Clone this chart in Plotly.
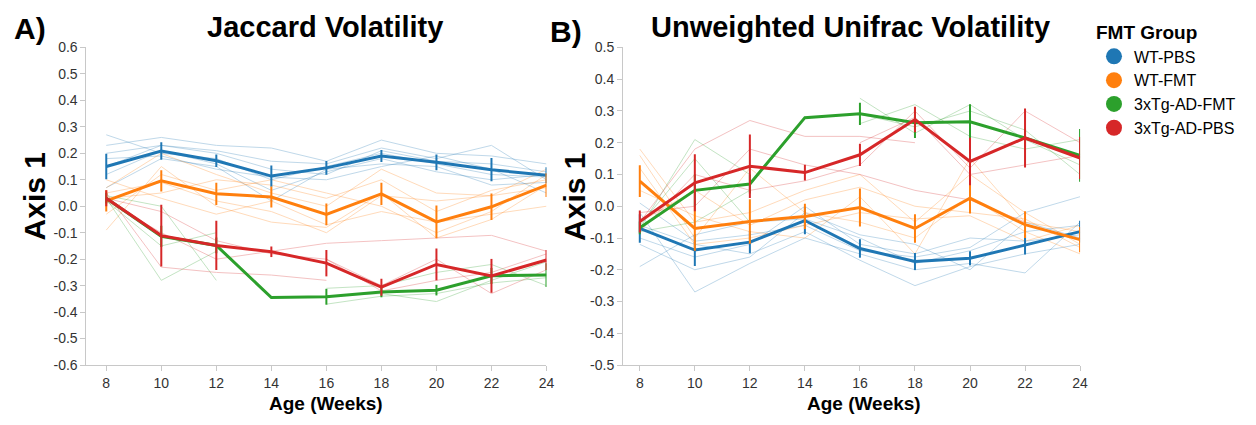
import plotly.graph_objects as go

W, H = 1256, 425

weeks = [8, 10, 12, 14, 16, 18, 20, 22, 24]
groups = ["WT-PBS", "WT-FMT", "3xTg-AD-FMT", "3xTg-AD-PBS"]
colors = {"WT-PBS": "#1f77b4", "WT-FMT": "#ff7f0e",
          "3xTg-AD-FMT": "#2ca02c", "3xTg-AD-PBS": "#d62728"}

# ---------------- Panel A: Jaccard ----------------
jac_mean = {
    "WT-PBS":      [0.150, 0.209, 0.172, 0.114, 0.145, 0.190, 0.166, 0.138, 0.117],
    "WT-FMT":      [0.020, 0.096, 0.047, 0.035, -0.031, 0.047, -0.059, -0.002, 0.080],
    "3xTg-AD-FMT": [0.030, -0.114, -0.148, -0.345, -0.342, -0.324, -0.317, -0.263, -0.260],
    "3xTg-AD-PBS": [0.030, -0.111, -0.148, -0.172, -0.215, -0.306, -0.220, -0.263, -0.203],
}
jac_err = {
    "WT-PBS":      [0.048, 0.033, 0.024, 0.040, 0.026, 0.023, 0.030, 0.044, 0.030],
    "WT-FMT":      [0.040, 0.040, 0.042, 0.040, 0.041, 0.042, 0.062, 0.050, 0.045],
    "3xTg-AD-FMT": [0.020, 0.040, 0.030, 0.0, 0.030, 0.020, 0.020, 0.030, 0.045],
    "3xTg-AD-PBS": [0.030, 0.117, 0.093, 0.020, 0.050, 0.032, 0.060, 0.064, 0.038],
}
jac_indiv = {
    "WT-PBS": [
        [0.27, 0.20, 0.18, 0.10, 0.15, 0.20, 0.16, 0.12, 0.11],
        [0.23, 0.26, 0.23, 0.22, 0.17, 0.25, 0.20, 0.19, 0.16],
        [0.20, 0.23, 0.21, 0.17, 0.16, 0.22, 0.18, 0.23, 0.10],
        [0.12, 0.21, 0.16, 0.06, 0.13, 0.18, 0.13, 0.10, 0.12],
        [0.07, 0.18, 0.15, 0.02, 0.14, 0.16, 0.15, 0.08, 0.09],
        [0.15, 0.23, 0.20, 0.14, 0.12, 0.21, 0.17, 0.16, 0.13],
        [0.18, 0.19, 0.14, 0.11, 0.10, 0.15, 0.19, 0.14, 0.05],
    ],
    "WT-FMT": [
        [0.07, 0.20, 0.12, 0.05, 0.00, 0.14, 0.05, 0.04, 0.14],
        [-0.09, 0.15, 0.00, -0.06, -0.08, 0.05, -0.12, -0.05, 0.08],
        [0.03, 0.05, 0.10, 0.08, 0.03, 0.10, -0.02, 0.06, 0.10],
        [0.10, 0.03, -0.03, 0.02, -0.07, -0.02, -0.06, -0.03, 0.00],
        [-0.03, 0.12, 0.06, 0.10, 0.05, 0.00, -0.10, -0.02, 0.12],
        [0.05, 0.09, 0.02, -0.02, -0.10, 0.04, 0.02, 0.04, 0.07],
    ],
    "3xTg-AD-FMT": [
        [0.03, -0.28, -0.17, None, None, None, None, None, None],
        [0.02, -0.15, -0.10, None, None, None, None, None, None],
        [0.04, 0.00, -0.28, None, None, None, None, None, None],
        [None, None, None, None, -0.37, -0.34, -0.33, -0.29, -0.27],
        [None, None, None, None, -0.31, -0.30, -0.25, -0.22, -0.30],
        [None, None, None, None, -0.34, -0.33, -0.36, -0.28, -0.21],
    ],
    "3xTg-AD-PBS": [
        [0.05, -0.23, -0.25, -0.26, -0.28, None, None, None, None],
        [0.02, -0.10, -0.20, -0.17, -0.14, -0.13, -0.12, -0.11, -0.17],
        [0.03, -0.02, -0.13, -0.18, -0.20, -0.30, -0.20, -0.33, -0.24],
        [None, None, None, None, -0.20, -0.32, -0.28, -0.25, -0.18],
    ],
}

# ---------------- Panel B: Unweighted Unifrac ----------------
uni_mean = {
    "WT-PBS":      [-0.070, -0.138, -0.113, -0.045, -0.133, -0.174, -0.164, -0.121, -0.080],
    "WT-FMT":      [0.079, -0.070, -0.048, -0.032, -0.004, -0.070, 0.025, -0.058, -0.105],
    "3xTg-AD-FMT": [-0.068, 0.050, 0.070, 0.279, 0.291, 0.263, 0.266, 0.215, 0.160],
    "3xTg-AD-PBS": [-0.048, 0.074, 0.126, 0.106, 0.162, 0.273, 0.141, 0.215, 0.152],
}
uni_err = {
    "WT-PBS":      [0.045, 0.050, 0.035, 0.043, 0.029, 0.027, 0.022, 0.031, 0.034],
    "WT-FMT":      [0.050, 0.070, 0.070, 0.040, 0.060, 0.045, 0.048, 0.042, 0.040],
    "3xTg-AD-FMT": [0.020, 0.050, 0.030, 0.0, 0.035, 0.048, 0.055, 0.030, 0.083],
    "3xTg-AD-PBS": [0.035, 0.090, 0.100, 0.025, 0.035, 0.040, 0.075, 0.093, 0.066],
}
uni_indiv = {
    "WT-PBS": [
        [-0.19, -0.09, -0.05, -0.04, -0.10, -0.18, -0.14, -0.08, -0.06],
        [-0.02, -0.27, -0.18, -0.10, -0.15, -0.20, -0.18, -0.21, -0.05],
        [-0.10, -0.16, -0.12, 0.00, -0.12, -0.15, -0.10, -0.11, -0.09],
        [-0.06, -0.12, -0.15, -0.08, -0.17, -0.25, -0.19, -0.15, -0.12],
        [0.01, -0.11, -0.09, -0.06, -0.14, -0.16, -0.13, -0.02, 0.03],
        [-0.12, -0.20, -0.16, -0.02, -0.09, -0.12, -0.20, -0.05, -0.10],
    ],
    "WT-FMT": [
        [0.18, -0.05, -0.02, 0.05, 0.10, -0.05, 0.10, -0.02, -0.12],
        [0.16, -0.10, 0.12, -0.02, -0.05, -0.10, 0.03, -0.08, -0.15],
        [0.05, -0.03, -0.08, -0.10, 0.03, -0.15, 0.15, -0.05, -0.08],
        [0.12, -0.12, -0.10, -0.06, -0.02, -0.04, -0.03, -0.11, -0.06],
        [-0.05, 0.05, -0.06, 0.02, 0.06, 0.00, -0.02, -0.04, -0.13],
    ],
    "3xTg-AD-FMT": [
        [-0.07, 0.21, 0.10, None, 0.34, 0.23, 0.32, 0.21, 0.13],
        [-0.06, 0.15, -0.05, None, 0.29, 0.25, 0.30, 0.24, 0.10],
        [-0.08, -0.05, 0.05, None, 0.26, 0.32, 0.22, 0.18, 0.21],
    ],
    "3xTg-AD-PBS": [
        [-0.05, 0.18, 0.27, 0.22, 0.22, 0.20, None, None, None],
        [-0.02, 0.00, 0.18, 0.13, 0.10, 0.05, 0.02, -0.05, None],
        [-0.08, 0.10, 0.05, 0.08, 0.13, 0.30, 0.12, 0.30, 0.20],
        [None, None, None, None, 0.20, 0.28, 0.10, 0.13, 0.16],
    ],
}

jac_yticks = [-0.6, -0.5, -0.4, -0.3, -0.2, -0.1, 0.0, 0.1, 0.2, 0.3, 0.4, 0.5, 0.6]
jac_yticktext = ["-0.6", "-0.5", "-0.4", "-0.3", "-0.2", "-0.1", "0.0",
                 "0.1", "0.2", "0.3", "0.4", "0.5", "0.6"]
uni_yticks = [-0.5, -0.4, -0.3, -0.2, -0.1, 0.0, 0.1, 0.2, 0.3, 0.4, 0.5]
uni_yticktext = ["-0.5", "-0.4", "-0.3", "-0.2", "-0.1", "0.0",
                 "0.1", "0.2", "0.3", "0.4", "0.5"]
xticks = [8, 10, 12, 14, 16, 18, 20, 22, 24]

FONT = "Liberation Sans, Arial, Helvetica, sans-serif"

fig = go.Figure()


def add_panel(indiv, mean, err, xa, ya):
    for g in groups:
        for series in indiv[g]:
            fig.add_trace(go.Scatter(
                x=weeks, y=series, mode="lines", xaxis=xa, yaxis=ya,
                line=dict(color=colors[g], width=1), opacity=0.28,
                showlegend=False, hoverinfo="skip", connectgaps=False))
    for g in groups:
        fig.add_trace(go.Scatter(
            x=weeks, y=mean[g], mode="lines", xaxis=xa, yaxis=ya,
            line=dict(color=colors[g], width=3),
            error_y=dict(type="data", array=err[g], visible=True,
                         width=0, thickness=2, color=colors[g]),
            showlegend=False))


add_panel(jac_indiv, jac_mean, jac_err, "x", "y")
add_panel(uni_indiv, uni_mean, uni_err, "x2", "y2")

# legend entries
for g in groups:
    fig.add_trace(go.Scatter(
        x=[None], y=[None], mode="markers", name=g,
        marker=dict(color=colors[g], size=16, symbol="circle", line=dict(width=0)),
        showlegend=True))


def px(x):
    return x / W


def py(y):
    return 1 - y / H


axis_common = dict(showline=True, linecolor="#c8c8c8", linewidth=1,
                   ticks="outside", ticklen=5, tickcolor="#c8c8c8",
                   showgrid=False, zeroline=False,
                   tickfont=dict(family=FONT, size=14, color="#333333"))

ydom = [py(371), py(41)]

fig.update_layout(
    width=W, height=H,
    margin=dict(l=0, r=0, t=0, b=0),
    paper_bgcolor="white", plot_bgcolor="white",
    font=dict(family=FONT),
    xaxis=dict(domain=[px(87), px(550)], range=[7.28, 24.0],
               tickvals=xticks, anchor="y", **axis_common),
    yaxis=dict(domain=ydom, range=[-0.6, 0.6], tickvals=jac_yticks,
               ticktext=jac_yticktext, anchor="x", **axis_common),
    xaxis2=dict(domain=[px(627), px(1087)], range=[7.39, 24.0],
                tickvals=xticks, anchor="y2", **axis_common),
    yaxis2=dict(domain=ydom, range=[-0.5, 0.5], tickvals=uni_yticks,
                ticktext=uni_yticktext, anchor="x2", **axis_common),
    legend=dict(x=px(1101), y=py(7), xanchor="left", yanchor="top",
                title=dict(text="<b>FMT Group</b>",
                           font=dict(family=FONT, size=19, color="black")),
                font=dict(family=FONT, size=16, color="black"),
                tracegroupgap=0, itemsizing="trace", itemwidth=30,
                bgcolor="rgba(0,0,0,0)"),
    showlegend=True,
)

annots = [
    dict(text="<b>A)</b>", x=px(30), y=py(21), size=30),
    dict(text="<b>B)</b>", x=px(570), y=py(24), size=30),
    dict(text="<b>Jaccard Volatility</b>", x=px(327), y=py(20), size=29),
    dict(text="<b>Unweighted Unifrac Volatility</b>", x=px(856), y=py(20), size=29),
    dict(text="<b>Age (Weeks)</b>", x=px(328), y=py(411), size=19),
    dict(text="<b>Age (Weeks)</b>", x=px(870), y=py(411), size=19),
]
for a in annots:
    fig.add_annotation(text=a["text"], x=a["x"], y=a["y"], xref="paper", yref="paper",
                       xanchor="center", yanchor="middle", showarrow=False,
                       font=dict(family=FONT, size=a["size"], color="black"))
for xc in (35, 578):
    fig.add_annotation(text="<b>Axis 1</b>", x=px(xc), y=py(196), xref="paper", yref="paper",
                       xanchor="center", yanchor="middle", showarrow=False, textangle=-90,
                       font=dict(family=FONT, size=30, color="black"))

fig.write_html("out.html")
